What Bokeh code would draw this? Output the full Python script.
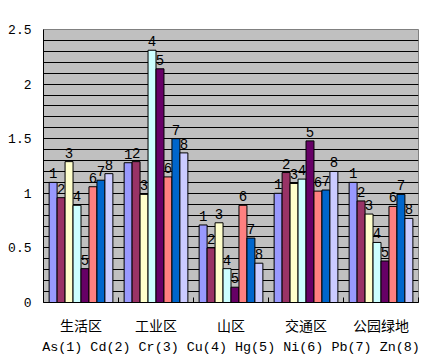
from bokeh.plotting import figure
from bokeh.models import FixedTicker, Range1d, ColumnDataSource
from bokeh.core.properties import value
from bokeh.embed import file_html
from bokeh.resources import INLINE

areas = ["生活区", "工业区", "山区", "交通区", "公园绿地"]
elements = ["As", "Cd", "Cr", "Cu", "Hg", "Ni", "Pb", "Zn"]
bar_labels = ["1", "2", "3", "4", "5", "6", "7", "8"]
colors = ["#9999FF", "#993366", "#FFFFCC", "#CCFFFF", "#660066", "#FF8080", "#0066CC", "#CCCCFF"]
# values per element (As..Zn), per area
As = [1.10, 1.28, 0.71, 1.00, 1.10]
Cd = [0.96, 1.29, 0.50, 1.19, 0.93]
Cr = [1.29, 0.99, 0.73, 1.09, 0.81]
Cu = [0.89, 2.31, 0.31, 1.13, 0.55]
Hg = [0.31, 2.14, 0.14, 1.48, 0.38]
Ni = [1.06, 1.15, 0.89, 1.02, 0.88]
Pb = [1.12, 1.50, 0.59, 1.03, 0.99]
Zn = [1.18, 1.37, 0.36, 1.20, 0.77]
series = [As, Cd, Cr, Cu, Hg, Ni, Pb, Zn]
y_ticks = [0, 0.5, 1, 1.5, 2, 2.5]
y_tick_labels = ["0", "0.5", "1", "1.5", "2", "2.5"]

p = figure(frame_width=375, frame_height=273, output_backend="svg", toolbar_location=None,
           x_range=Range1d(0, 5), y_range=Range1d(0, 2.5),
           min_border_left=43, min_border_right=1, min_border_top=29, min_border_bottom=10)
p.background_fill_color = "#C0C0C0"
p.border_fill_color = "white"
p.outline_line_color = "#808080"

bw = 0.85 / 8
off = 0.075
for j, vals in enumerate(series):
    xs = [i + off + (j + 0.5) * bw for i in range(len(areas))]
    src = ColumnDataSource(dict(x=xs, top=vals, lab=[bar_labels[j]] * len(vals)))
    p.vbar(x="x", top="top", width=bw, bottom=0, source=src,
           fill_color=colors[j], line_color="black", line_width=1)
    p.text(x="x", y="top", text="lab", source=src, text_align="center",
           text_baseline="bottom", y_offset=-4, text_font=value("Liberation Mono"),
           text_font_size="14px", text_color="black")

# y axis
yt = FixedTicker(ticks=y_ticks, minor_ticks=[k / 10 for k in range(26)])
p.yaxis.ticker = yt
p.yaxis.major_label_overrides = {t: l for t, l in zip(y_ticks, y_tick_labels)}
p.yaxis.major_label_text_font = "Liberation Mono"
p.yaxis.major_label_text_font_size = "13px"
p.yaxis.major_label_text_color = "black"
p.yaxis.major_tick_out = 0
p.yaxis.major_tick_in = 0
p.yaxis.minor_tick_out = 0
p.yaxis.minor_tick_in = 0
p.yaxis.major_label_standoff = 12
p.yaxis.axis_line_color = "black"
p.ygrid.ticker = yt
p.ygrid.grid_line_color = "black"
p.ygrid.minor_grid_line_color = "black"
p.xgrid.grid_line_color = None

# x axis
centers = [i + 0.5 for i in range(len(areas))]
xt = FixedTicker(ticks=centers, minor_ticks=list(range(len(areas) + 1)))
p.xaxis.ticker = xt
p.xaxis.major_label_overrides = {c: a for c, a in zip(centers, areas)}
p.xaxis.major_label_text_font = "Noto Sans CJK SC"
p.xaxis.major_label_text_font_size = "14px"
p.xaxis.major_label_text_color = "black"
p.xaxis.major_tick_line_color = None
p.xaxis.minor_tick_in = 5
p.xaxis.minor_tick_out = 0
p.xaxis.minor_tick_line_color = "black"
p.xaxis.major_label_standoff = 6
p.xaxis.axis_line_color = "black"
p.xaxis.axis_label = " ".join(f"{e}({k})" for e, k in zip(elements, bar_labels))
p.xaxis.axis_label_text_font = "Liberation Mono"
p.xaxis.axis_label_text_font_size = "13.4px"
p.xaxis.axis_label_text_font_style = "normal"
p.xaxis.axis_label_text_color = "black"
p.xaxis.axis_label_standoff = 2

open("out.html", "w").write(file_html(p, INLINE))
